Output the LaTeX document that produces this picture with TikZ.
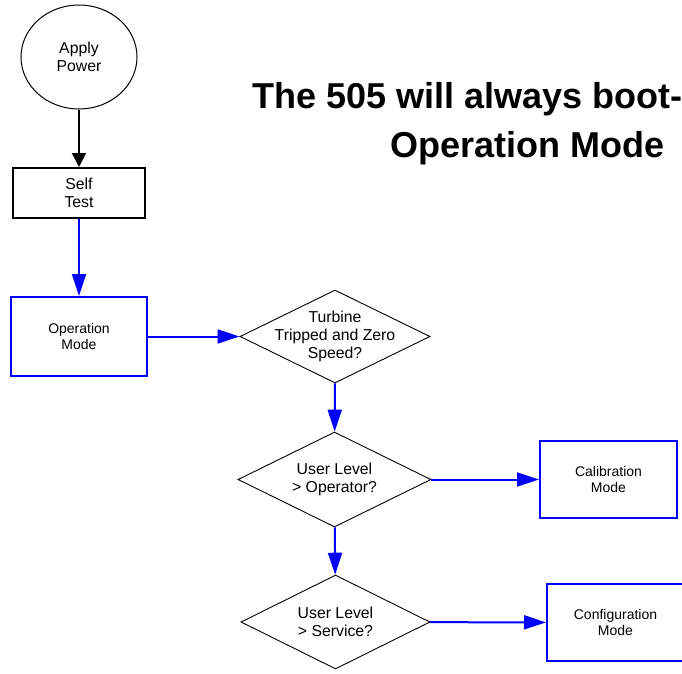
\documentclass[tikz,border=0pt]{standalone}
\usepackage{fontspec}
\setmainfont{Liberation Sans}
\usetikzlibrary{shapes.geometric,arrows.meta}
\begin{document}
\begin{tikzpicture}[x=1pt,y=-1pt,
 txt/.style={font=\fontsize{15.8}{18}\selectfont, align=center},
 stxt/.style={font=\fontsize{14}{16.5}\selectfont, align=center},
 startnode/.style={ellipse, draw, line width=1pt, minimum width=116pt, minimum height=104pt, inner sep=0pt, txt},
 blackbox/.style={rectangle, draw, line width=2pt, inner sep=0pt, txt},
 bluebox/.style={rectangle, draw=blue, line width=2pt, inner sep=0pt, stxt},
 decision/.style={diamond, draw, line width=0.9pt, inner sep=0pt, aspect=2},
 dtext/.style={txt, inner sep=0pt},
 blackarrow/.style={draw, line width=2pt, -{Triangle[length=14pt,width=14pt]}},
 bluearrow/.style={draw=blue, line width=2pt, -{Triangle[length=22pt,width=14pt]}},
 titletext/.style={font=\fontsize{36}{40}\selectfont\bfseries, inner sep=0pt, anchor=base west}
]
\clip (0,0) rectangle (682,673);
\fill[white] (0,0) rectangle (682,673);

\node[startnode] (power) at (79,57) {Apply\\Power};
\node[blackbox, minimum width=132pt, minimum height=50pt] (self) at (79,193) {Self\\Test};
\node[bluebox, minimum width=136pt, minimum height=79pt] (opmode) at (79,336.5) {Operation\\Mode};

\node[decision, minimum width=190pt, minimum height=93pt,
  label={[dtext]center:{Turbine\\Tripped and Zero\\Speed?}}] (d1) at (335,336.5) {};
\node[decision, minimum width=193pt, minimum height=95pt,
  label={[dtext]center:{User Level\\> Operator?}}] (d2) at (334.5,479.5) {};
\node[decision, minimum width=189pt, minimum height=94pt,
  label={[dtext]center:{User Level\\> Service?}}] (d3) at (335.5,622) {};

\node[bluebox, minimum width=137pt, minimum height=77pt] (calib) at (608.5,479.5) {Calibration\\Mode};
\node[bluebox, minimum width=137pt, minimum height=77pt] (config) at (615.5,622.5) {Configuration\\Mode};

\node[titletext] (t1) at (252,108) {The 505 will always boot-};
\node[titletext] (t2) at (390,157) {Operation Mode};

\draw[blackarrow] (power) -- (self);
\draw[bluearrow] (self) -- (opmode);
\draw[bluearrow] (opmode) -- (d1);
\draw[bluearrow] (d1) -- (d2);
\draw[bluearrow] (d2) -- (calib);
\draw[bluearrow] (d2) -- (d3);
\draw[bluearrow] (d3) -- (config);
\end{tikzpicture}
\end{document}
